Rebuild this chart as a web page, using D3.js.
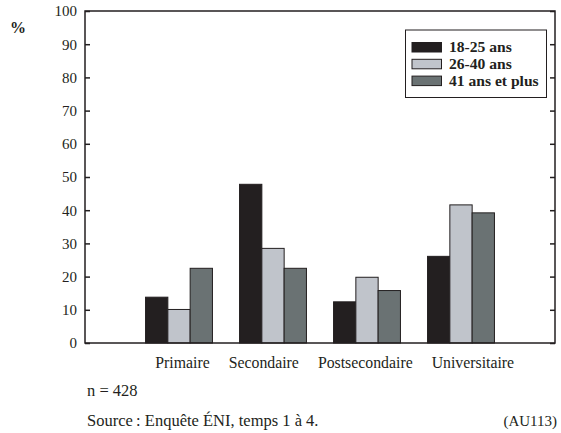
<!DOCTYPE html>
<html><head><meta charset="utf-8">
<script src="https://cdn.jsdelivr.net/npm/d3@7"></script>
<style>
body{margin:0;background:#fff;}
text{font-family:"Liberation Serif","Times New Roman",serif;fill:#231f20;}
</style></head>
<body><svg id="c" width="561" height="433"></svg>
<script>
const categories = ["Primaire","Secondaire","Postsecondaire","Universitaire"];
const seriesNames = ["18-25 ans","26-40 ans","41 ans et plus"];
const s1825 = [13.8, 47.8, 12.4, 26.1];
const s2640 = [10.1, 28.5, 19.8, 41.6];
const s41 = [22.5, 22.5, 15.8, 39.2];
const yTicks = [0,10,20,30,40,50,60,70,80,90,100];
const colors = ["#231f20","#c0c4cb","#6a7273"];
const series = [s1825, s2640, s41];

const svg = d3.select("#c");
const L=85, R=555, T=11, B=343;
const y = d3.scaleLinear().domain([0,100]).range([B,T]);
const x = d3.scaleLinear().domain([0,5]).range([L,R]);
const bw = 22.3;

// bars
categories.forEach((c,i)=>{
  series.forEach((s,j)=>{
    svg.append("rect")
      .attr("x", x(i+1) - 1.5*bw + j*bw)
      .attr("y", y(s[i]))
      .attr("width", bw)
      .attr("height", y(0)-y(s[i]))
      .attr("fill", colors[j])
      .attr("stroke", "#231f20").attr("stroke-width", 1);
  });
});

// frame
svg.append("rect").attr("x",L).attr("y",T).attr("width",R-L).attr("height",B-T)
  .attr("fill","none").attr("stroke","#231f20").attr("stroke-width",1.5);

// left axis ticks inward
const la = svg.append("g").attr("transform",`translate(${L},0)`)
  .call(d3.axisLeft(y).tickValues(yTicks).tickSize(-5).tickPadding(8));
la.select(".domain").remove();
la.selectAll("line").attr("stroke","#231f20").attr("stroke-width",1.5);
la.selectAll("text").style("font-size","15px").attr("fill","#231f20")
  .style("font-family",'"Liberation Serif",serif');

const ra = svg.append("g").attr("transform",`translate(${R},0)`)
  .call(d3.axisRight(y).tickValues(yTicks).tickSize(-5).tickFormat(""));
ra.select(".domain").remove();
ra.selectAll("line").attr("stroke","#231f20").attr("stroke-width",1.5);

// category labels (flowed after the first, as in the original typesetting)
const xa = svg.append("g").attr("transform",`translate(0,${B})`)
  .call(d3.axisBottom(x).tickValues([1,2,3,4]).tickSize(0).tickPadding(14)
    .tickFormat(d=>categories[d-1]));
xa.select(".domain").remove();
const labs = xa.selectAll("text").style("font-size","15.8px").attr("fill","#231f20")
  .style("font-family",'"Liberation Serif",serif');
let cursor = null;
xa.selectAll(".tick").each(function(d,i){
  const t = d3.select(this).select("text");
  const w = t.node().getComputedTextLength();
  const cx = x(d);
  let left = (i===0) ? cx + 3 - w/2 : cursor + 19;
  t.attr("text-anchor","start").attr("x", left - cx);
  cursor = left + w;
});

// % label
svg.append("text").attr("x",10).attr("y",33).style("font-size","16px").style("font-weight","bold").text("%");

// legend
const lg = svg.append("g");
lg.append("rect").attr("x",405.5).attr("y",30).attr("width",141).attr("height",67.5)
  .attr("fill","#fff").attr("stroke","#231f20").attr("stroke-width",1);
seriesNames.forEach((n,j)=>{
  lg.append("rect").attr("x",412).attr("y",42.5+j*16.8).attr("width",29.5).attr("height",9.5)
    .attr("fill",colors[j]).attr("stroke","#231f20").attr("stroke-width",1);
  lg.append("text").attr("x",449).attr("y",52+j*16.8).style("font-size","15.6px")
    .style("font-weight","bold").text(n);
});

// notes
svg.append("text").attr("x",87).attr("y",396).style("font-size","16.5px").text("n = 428");
svg.append("text").attr("x",87).attr("y",426).style("font-size","16.5px").text("Source\u2009: Enquête ÉNI, temps 1 à 4.");
svg.append("text").attr("x",557).attr("y",426).attr("text-anchor","end").style("font-size","15px").text("(AU113)");
</script></body></html>
